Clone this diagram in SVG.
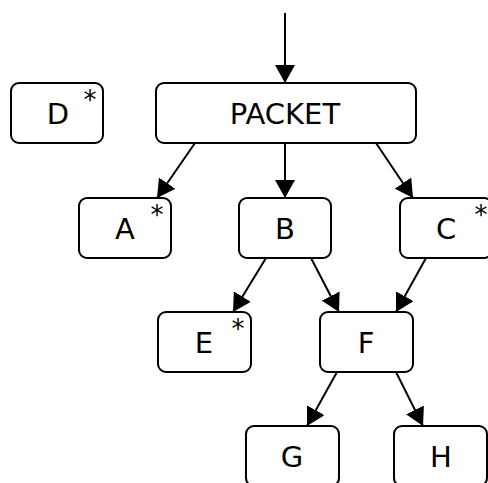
<svg xmlns="http://www.w3.org/2000/svg" width="488" height="483" viewBox="0 0 488 483">
<defs>
<style>
.box{fill:#fff;stroke:#000;stroke-width:2}
.lbl{font-family:"DejaVu Sans",sans-serif;font-size:29px;text-anchor:middle;fill:#000}
.star{font-family:"DejaVu Sans",sans-serif;font-size:26px;text-anchor:middle;fill:#000}
</style>
<marker id="ah2" viewBox="0 0 18 20" refX="18" refY="10" markerWidth="18" markerHeight="20" markerUnits="userSpaceOnUse" orient="auto">
<path d="M0,0 L18,10 L0,20 z" fill="#000"/>
</marker>
</defs>
<g id="connectors" stroke="#000" stroke-width="2" fill="none">
<line x1="285" y1="13" x2="285" y2="83" marker-end="url(#ah2)"/>
<line x1="195" y1="143" x2="157" y2="198" marker-end="url(#ah2)"/>
<line x1="285" y1="143" x2="285" y2="198" marker-end="url(#ah2)"/>
<line x1="376" y1="143" x2="413" y2="198" marker-end="url(#ah2)"/>
<line x1="266" y1="258" x2="233" y2="312" marker-end="url(#ah2)"/>
<line x1="311" y1="258" x2="339" y2="312" marker-end="url(#ah2)"/>
<line x1="426" y1="258" x2="396" y2="312" marker-end="url(#ah2)"/>
<line x1="337" y1="372" x2="307" y2="426" marker-end="url(#ah2)"/>
<line x1="396" y1="372" x2="423" y2="426" marker-end="url(#ah2)"/>
</g>
<g id="node-D"><rect class="box" x="11" y="83" width="92" height="60" rx="8"/><text class="lbl" x="58" y="124">D</text><text class="star" x="90" y="109">*</text></g>
<g id="node-PACKET"><rect class="box" x="156" y="83" width="260" height="60" rx="8"/><text class="lbl" x="285" y="124">PACKET</text></g>
<g id="node-A"><rect class="box" x="79" y="198" width="92" height="60" rx="8"/><text class="lbl" x="125" y="239">A</text><text class="star" x="157" y="224">*</text></g>
<g id="node-B"><rect class="box" x="239" y="198" width="92" height="60" rx="8"/><text class="lbl" x="285" y="239">B</text></g>
<g id="node-C"><rect class="box" x="400" y="198" width="92" height="60" rx="8"/><text class="lbl" x="446" y="239">C</text><text class="star" x="481" y="224">*</text></g>
<g id="node-E"><rect class="box" x="158" y="312" width="93" height="60" rx="8"/><text class="lbl" x="204" y="353">E</text><text class="star" x="238" y="338">*</text></g>
<g id="node-F"><rect class="box" x="320" y="312" width="93" height="60" rx="8"/><text class="lbl" x="366" y="353">F</text></g>
<g id="node-G"><rect class="box" x="246" y="426" width="93" height="60" rx="8"/><text class="lbl" x="292" y="467">G</text></g>
<g id="node-H"><rect class="box" x="394" y="426" width="93" height="60" rx="8"/><text class="lbl" x="441" y="467">H</text></g>
</svg>
